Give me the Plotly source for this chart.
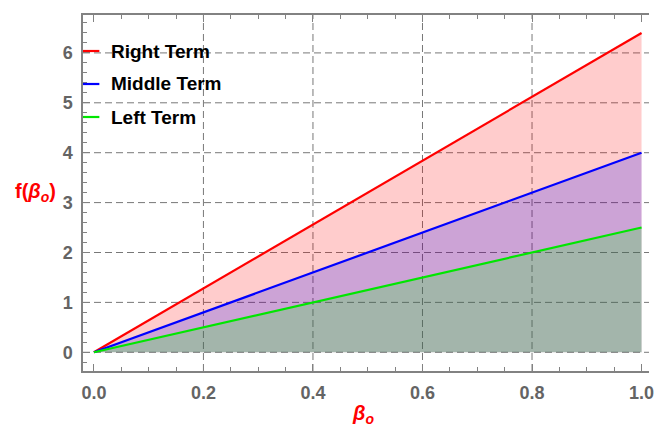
import plotly.graph_objects as go

# ---- data ----
beta = [0.0, 1.0]
right_term = [0.0, 6.4]
middle_term = [0.0, 4.0]
left_term = [0.0, 2.5]

series_names = ["Right Term", "Middle Term", "Left Term"]
series_values = [right_term, middle_term, left_term]
series_colors = ["rgb(255,0,0)", "rgb(0,0,255)", "rgb(0,230,0)"]
fill_colors = ["rgba(255,0,0,0.2)", "rgba(0,0,255,0.2)", "rgba(0,255,0,0.2)"]

x_ticks = [0.0, 0.2, 0.4, 0.6, 0.8, 1.0]
x_grid = [0.2, 0.4, 0.6, 0.8]
y_ticks = [0, 1, 2, 3, 4, 5, 6]

# ---- layout constants ----
W, H = 654, 427
ML, MR, MT, MB = 83, 0, 15, 56
PW = W - ML - MR
PH = H - MT - MB


def px_x(px):
    return (px - ML) / PW


def px_y(py):
    return (MT + PH - py) / PH


fig = go.Figure()

for name, vals, col, fcol in zip(series_names, series_values, series_colors, fill_colors):
    fig.add_trace(go.Scatter(
        x=beta, y=vals, mode="lines", name=name,
        line=dict(color=col, width=2.2),
        fill="tozeroy", fillcolor=fcol, showlegend=False,
    ))

grid_style = dict(color="rgb(120,120,120)", width=1, dash="7px,4px")
shapes = []
for gx in x_grid:
    shapes.append(dict(type="line", xref="x", yref="paper", x0=gx, x1=gx, y0=0, y1=1,
                       line=grid_style, layer="below"))
for gy in y_ticks:
    shapes.append(dict(type="line", xref="paper", yref="y", x0=0, x1=1, y0=gy, y1=gy,
                       line=grid_style, layer="below"))

# manual legend (line swatch + bold label)
legend_rows_px = [51, 84, 117]
annotations = []
for name, col, py in zip(series_names, series_colors, legend_rows_px):
    shapes.append(dict(type="line", xref="paper", yref="paper",
                       x0=px_x(83), x1=px_x(99.5), y0=px_y(py), y1=px_y(py),
                       line=dict(color=col, width=2.2), layer="above"))
    annotations.append(dict(xref="paper", yref="paper", x=px_x(109), y=px_y(py),
                            xanchor="left", yanchor="middle", showarrow=False,
                            text=f"<b>{name}</b>",
                            font=dict(family="Liberation Sans, Arial", size=19, color="black")))

# axis titles
annotations.append(dict(xref="paper", yref="paper", x=px_x(35), y=px_y(192),
                        xanchor="center", yanchor="middle", showarrow=False,
                        text="<b>f(<i>β<sub>o</sub></i>)</b>",
                        font=dict(family="Liberation Sans, Arial", size=20, color="red")))
annotations.append(dict(xref="paper", yref="paper", x=px_x(365), y=px_y(414),
                        xanchor="center", yanchor="middle", showarrow=False,
                        text="<b><i>β<sub>o</sub></i></b>",
                        font=dict(family="Liberation Sans, Arial", size=20, color="red")))

frame_col = "rgb(130,130,130)"
tick_font = dict(family="Liberation Sans, Arial", size=18, color="rgb(100,100,100)")

fig.update_layout(
    width=W, height=H,
    margin=dict(l=ML, r=MR, t=MT, b=MB, pad=0),
    paper_bgcolor="white", plot_bgcolor="white",
    shapes=shapes, annotations=annotations,
    showlegend=False,
    xaxis=dict(
        range=[-0.0199, 1.0136], tickvals=x_ticks,
        ticktext=[f"<b>{v:.1f}</b>" for v in x_ticks],
        showgrid=False, zeroline=False,
        showline=True, linecolor=frame_col, linewidth=1.5, mirror="ticks",
        ticks="inside", ticklen=7, tickcolor=frame_col, tickwidth=1,
        minor=dict(dtick=0.05, tick0=0, ticks="inside", ticklen=4, tickcolor=frame_col, showgrid=False),
        tickfont=tick_font, ticklabelstandoff=5, ticklabeloverflow="allow",
    ),
    yaxis=dict(
        range=[-0.375, 6.76], tickvals=y_ticks,
        ticktext=[f"<b>{v}</b>" for v in y_ticks],
        showgrid=False, zeroline=False,
        showline=True, linecolor=frame_col, linewidth=1.5, mirror=False,
        ticks="inside", ticklen=7, tickcolor=frame_col, tickwidth=1,
        minor=dict(dtick=0.2, tick0=0, ticks="inside", ticklen=4, tickcolor=frame_col, showgrid=False),
        tickfont=tick_font, ticklabelstandoff=5,
    ),
)

post = (
    "document.documentElement.style.overflow='hidden';"
    "document.body.style.margin='0px';document.body.style.overflow='hidden';"
    "var gd=document.getElementById('{plot_id}');"
    "gd.style.overflow='hidden';gd.style.width='654px';gd.style.height='427px';"
    "gd.querySelectorAll('svg').forEach(function(s){s.style.overflow='hidden';});"
)
fig.write_html("out.html", config={"displayModeBar": False}, post_script=post)
